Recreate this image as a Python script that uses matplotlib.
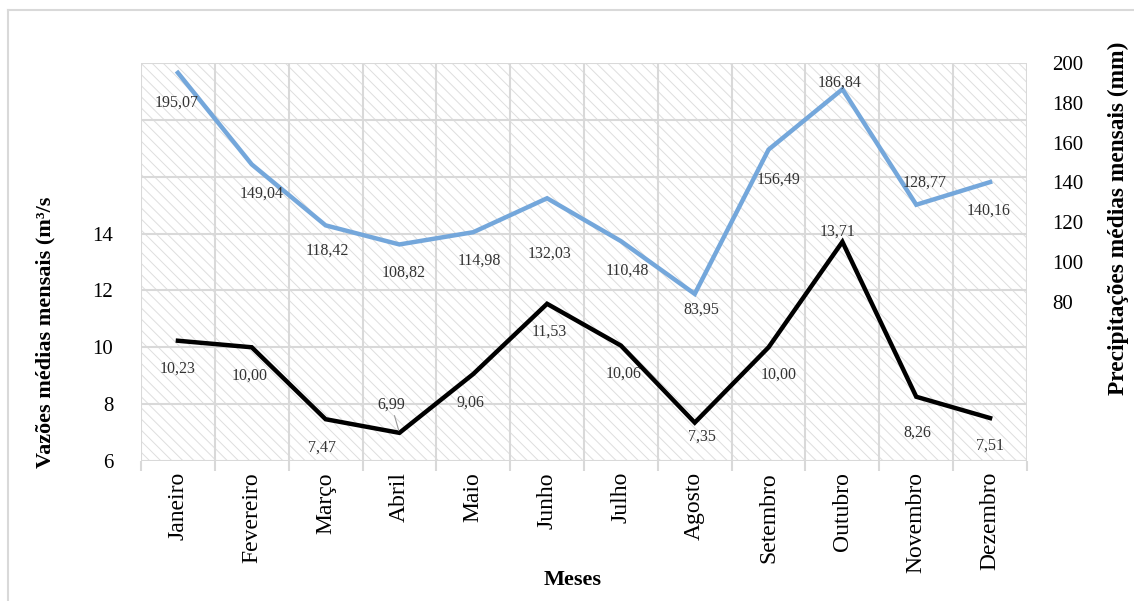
import matplotlib
matplotlib.use("Agg")
import matplotlib.pyplot as plt
from matplotlib.patches import Rectangle
from matplotlib.lines import Line2D

# Monthly data
meses = ["Janeiro", "Fevereiro", "Março", "Abril", "Maio", "Junho",
         "Julho", "Agosto", "Setembro", "Outubro", "Novembro", "Dezembro"]
vazoes = [10.23, 10.00, 7.47, 6.99, 9.06, 11.53, 10.06, 7.35, 10.00, 13.71, 8.26, 7.51]
precip = [195.07, 149.04, 118.42, 108.82, 114.98, 132.03, 110.48, 83.95,
          156.49, 186.84, 128.77, 140.16]

vazao_ticks = [6, 8, 10, 12, 14]
precip_ticks = [80, 100, 120, 140, 160, 180, 200]

# label offsets (pixels) for each data label
vaz_off = [(0, 28), (-2, 28), (-4, 28), (-8, -28), (-3, 29), (2, 28),
           (3, 28), (7, 14), (10, 27), (-5, -10), (1, 36), (0, 28)]
pre_off = [(-1, 30), (10, 29), (2, 25), (4, 28), (6, 28), (2, 55),
           (6, 29), (7, 16), (10, 30), (-3, -7), (8, -22), (-2, 29)]

plt.rcParams['font.family'] = ['Liberation Serif', 'DejaVu Serif']
plt.rcParams['hatch.linewidth'] = 0.7
GRID = '#d9d9d9'
BLUE = '#74a7db'

W, H = 1134, 601
fig = plt.figure(figsize=(W / 100, H / 100), dpi=100)

# outer chart frame
fig.add_artist(Line2D([8 / W, 8 / W], [0, 1 - 10 / H], transform=fig.transFigure,
                      color=GRID, lw=1.5))
fig.add_artist(Line2D([8 / W, 1], [1 - 10 / H, 1 - 10 / H], transform=fig.transFigure,
                      color=GRID, lw=1.5))

ax = fig.add_axes([141 / W, 1 - 461 / H, 886 / W, 398 / H])
ax.set_facecolor('none')
ax.add_patch(Rectangle((0, 0), 1, 1, transform=ax.transAxes, facecolor='white',
                       edgecolor='#dedede', lw=0, hatch='\\\\\\', zorder=0))

x = list(range(len(meses)))
ax.set_xlim(-0.5, len(meses) - 0.5)
ax.set_ylim(6, 20)
ax.set_yticks(range(6, 21, 2))
ax.set_yticklabels([str(t) if t in vazao_ticks else '' for t in range(6, 21, 2)])
ax.set_xticks(x)
ax.set_xticklabels(meses, rotation=90, fontsize=17)
ax.set_xticks([i - 0.5 for i in range(len(meses) + 1)], minor=True)
ax.tick_params(axis='x', which='major', length=0, pad=8)
ax.tick_params(axis='x', which='minor', length=7, color=GRID, width=1.5)
ax.tick_params(axis='y', length=0, pad=20, labelsize=15)
ax.grid(True, axis='y', which='major', color=GRID, lw=1.5, zorder=0.5)
ax.grid(True, axis='x', which='minor', color=GRID, lw=1.5, zorder=0.5)
ax.set_axisbelow(True)
for s in ax.spines.values():
    s.set_visible(False)

ax.plot(x, vazoes, color='black', lw=3.2, zorder=3, solid_joinstyle='miter')

ax2 = ax.twinx()
ax2.set_ylim(0, 200)
ax2.set_yticks(precip_ticks)
ax2.tick_params(axis='y', length=0, pad=18, labelsize=15)
for s in ax2.spines.values():
    s.set_visible(False)
ax2.plot(x, precip, color=BLUE, lw=3.2, zorder=3, solid_joinstyle='miter')

def fmt(v):
    return f"{v:.2f}".replace('.', ',')

for i, v in enumerate(vazoes):
    dx, dy = vaz_off[i]
    kw = {}
    if dy < -20:
        kw['arrowprops'] = dict(arrowstyle='-', color='#999999', lw=0.8, shrinkA=0, shrinkB=2)
    ax.annotate(fmt(v), (i, v), xytext=(dx, -dy), textcoords='offset pixels',
                ha='center', va='center', fontsize=11.5, color='#333333', zorder=5, **kw)

for i, v in enumerate(precip):
    dx, dy = pre_off[i]
    ax2.annotate(fmt(v), (i, v), xytext=(dx, -dy), textcoords='offset pixels',
                 ha='center', va='center', fontsize=11.5, color='#333333', zorder=5)

fig.text(45 / W, 1 - 332 / H, "Vazões médias mensais (m³/s", rotation=90,
         ha='center', va='center', fontsize=16, fontweight='bold')
fig.text(1118 / W, 1 - 218 / H, "Precipitações médias mensais (mm)", rotation=90,
         ha='center', va='center', fontsize=16.8, fontweight='bold')
fig.text(573 / W, 1 - 580 / H, "Meses", ha='center', va='center',
         fontsize=16, fontweight='bold')

fig.savefig("out.png", dpi=100)
